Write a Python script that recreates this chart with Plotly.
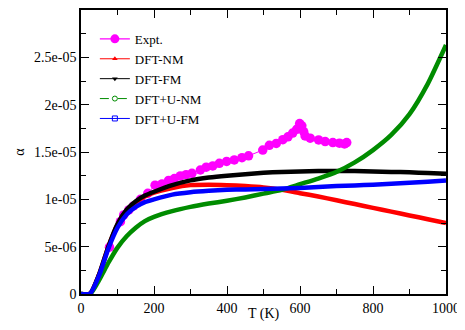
import plotly.graph_objects as go

# ---- data ----
expt_T = [78, 108, 117, 131, 144, 163, 183, 203, 222, 240, 256, 272, 288, 304, 327, 343,
          361, 379, 399, 420, 441, 459, 498, 516, 535, 553, 567, 580, 591, 599, 605, 610,
          614, 628, 651, 669, 690, 708, 722, 728]
expt_a = [4.94e-6, 7.64e-6, 8.35e-6, 8.88e-6, 9.3e-6, 1.0e-5, 1.064e-5, 1.15e-5, 1.163e-5, 1.2e-5,
          1.22e-5, 1.247e-5, 1.26e-5, 1.275e-5, 1.31e-5, 1.34e-5,
          1.353e-5, 1.38e-5, 1.40e-5, 1.416e-5, 1.44e-5, 1.46e-5, 1.52e-5, 1.57e-5, 1.59e-5,
          1.63e-5, 1.66e-5, 1.70e-5, 1.74e-5, 1.80e-5, 1.776e-5, 1.716e-5,
          1.67e-5, 1.646e-5, 1.628e-5, 1.61e-5, 1.60e-5, 1.593e-5, 1.585e-5, 1.60e-5]

T_calc = [0, 25, 50, 75, 100, 125, 150, 175, 200, 250, 300, 350, 400, 450, 500, 550,
          600, 650, 700, 750, 800, 850, 900, 950, 1000]
dft_nm = [0, 0.05e-6, 2.1e-6, 5.0e-6, 7.3e-6, 8.8e-6, 9.7e-6, 1.03e-5, 1.07e-5, 1.12e-5, 1.15e-5,
          1.155e-5, 1.15e-5, 1.14e-5, 1.125e-5, 1.1e-5, 1.065e-5, 1.03e-5, 9.9e-6, 9.5e-6,
          9.1e-6, 8.7e-6, 8.3e-6, 7.9e-6, 7.5e-6]
dft_fm = [0, 0.05e-6, 2.1e-6, 5.0e-6, 7.4e-6, 8.9e-6, 9.8e-6, 1.04e-5, 1.08e-5, 1.15e-5, 1.2e-5,
          1.23e-5, 1.25e-5, 1.265e-5, 1.28e-5, 1.29e-5, 1.295e-5, 1.3e-5, 1.3e-5, 1.3e-5,
          1.295e-5, 1.29e-5, 1.285e-5, 1.278e-5, 1.27e-5]
dftu_nm = [0, 0.0, 1.5e-6, 3.3e-6, 4.9e-6, 6.1e-6, 7.0e-6, 7.7e-6, 8.15e-6, 8.75e-6, 9.2e-6,
           9.55e-6, 9.85e-6, 1.02e-5, 1.06e-5, 1.1e-5, 1.16e-5, 1.22e-5, 1.29e-5, 1.39e-5,
           1.52e-5, 1.68e-5, 1.9e-5, 2.22e-5, 2.63e-5]
dftu_fm = [0, 0.05e-6, 2.0e-6, 4.8e-6, 7.0e-6, 8.4e-6, 9.2e-6, 9.7e-6, 1.0e-5, 1.05e-5, 1.075e-5,
           1.09e-5, 1.1e-5, 1.105e-5, 1.11e-5, 1.115e-5, 1.12e-5, 1.13e-5, 1.14e-5, 1.147e-5,
           1.155e-5, 1.165e-5, 1.175e-5, 1.187e-5, 1.2e-5]

names = ["Expt.", "DFT-NM", "DFT-FM", "DFT+U-NM", "DFT+U-FM"]
ytick_vals = [0, 5e-6, 1e-5, 1.5e-5, 2e-5, 2.5e-5]
ytick_text = ["0", "5e-06", "1e-05", "1.5e-05", "2e-05", "2.5e-05"]
xtick_vals = [0, 200, 400, 600, 800, 1000]
xtick_text = ["0", "200", "400", "600", "800", "1000"]
x_title = "T (K)"
y_title = "α"

FONT = "'Liberation Serif', 'Times New Roman', Times, serif"
fig = go.Figure()

curves = [(dft_nm, "#ff0000"), (dft_fm, "#000000"), (dftu_nm, "#008c00"), (dftu_fm, "#0000ff")]
fig.add_trace(go.Scatter(x=expt_T, y=expt_a, mode="lines+markers", showlegend=False,
                         line=dict(color="#ff00ff", width=1),
                         marker=dict(color="#ff00ff", size=9.5)))
for ys, col in curves:
    fig.add_trace(go.Scatter(x=T_calc, y=ys, mode="lines", showlegend=False,
                             line=dict(color=col, width=4.5, shape="spline", smoothing=0.6)))

leg = [
    ("#ff00ff", "solid", "circle", 9, 1.2),
    ("#ff0000", "solid", "triangle-up", 5, 1),
    ("#000000", "solid", "triangle-down", 5, 1),
    ("#008c00", "dash", "circle-open", 5, 1),
    ("#0000ff", "solid", "square-open", 5, 1),
]
for nm, (col, dash, sym, sz, w) in zip(names, leg):
    fig.add_trace(go.Scatter(x=[None], y=[None], mode="lines+markers", name=nm,
                             line=dict(color=col, width=w, dash=dash),
                             marker=dict(color=col, symbol=sym, size=sz)))

axis_common = dict(showline=True, linecolor="black", linewidth=1.5, mirror="ticks",
                   ticks="inside", ticklen=8, tickwidth=1.2, tickcolor="black",
                   showgrid=False, zeroline=False, ticklabeloverflow="allow", automargin=False,
                   tickfont=dict(family=FONT, size=14, color="black"))
fig.update_xaxes(range=[0, 1000], tickvals=xtick_vals, ticktext=xtick_text,
                 minor=dict(ticks="inside", ticklen=5, dtick=100, tick0=0, tickcolor="black"),
                 **axis_common)
fig.update_yaxes(range=[0, 3e-5], tickvals=ytick_vals, ticktext=ytick_text,
                 title=dict(text=y_title, font=dict(family=FONT, size=14, color="black"), standoff=6),
                 minor=dict(ticks="inside", ticklen=5, dtick=2.5e-6, tick0=0, tickcolor="black"),
                 **axis_common)

fig.add_annotation(text=x_title, xref="paper", yref="paper", x=0.5, y=0,
                   xanchor="center", yanchor="top", yshift=-10, showarrow=False,
                   font=dict(family=FONT, size=14, color="black"))

# the page body keeps its 8px margin, so the figure is sized to fit inside the window
fig.update_layout(width=457, height=314, margin=dict(l=73, r=19, t=2, b=28),
                  plot_bgcolor="white", paper_bgcolor="white",
                  font=dict(family=FONT, size=14, color="black"),
                  legend=dict(x=0.038, y=0.951, xanchor="left", yanchor="top",
                              bgcolor="rgba(0,0,0,0)", font=dict(family=FONT, size=13, color="black"),
                              tracegroupgap=0, itemwidth=30))

fig.write_html("out.html", config={"displayModeBar": False})
